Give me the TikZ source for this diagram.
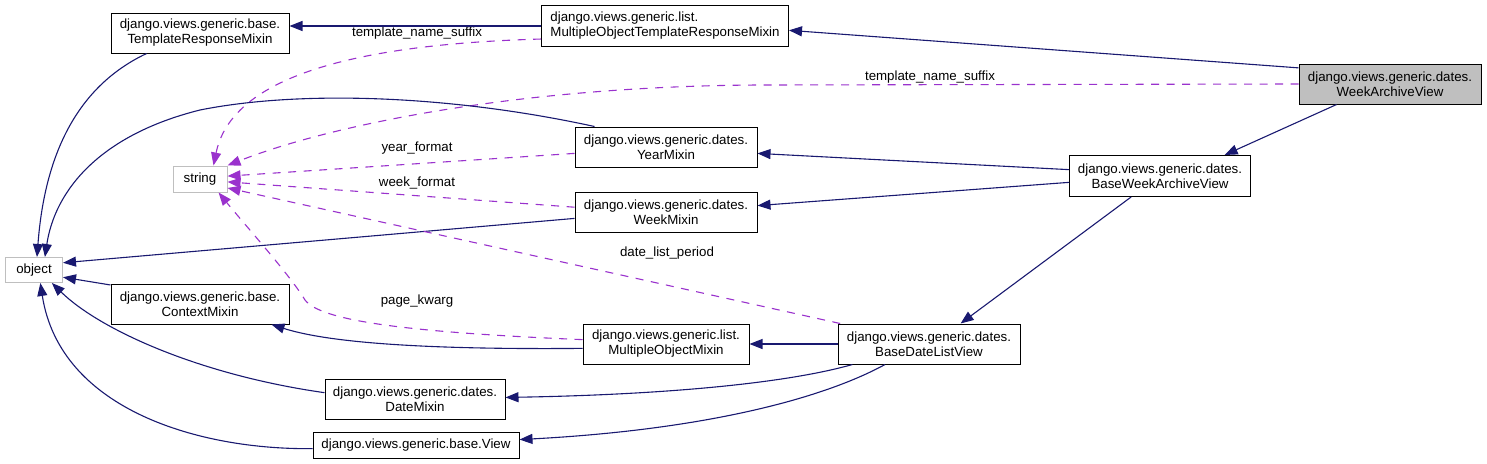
\documentclass[tikz,border=0pt]{standalone}
\usepackage{fontspec}
\setmainfont{Liberation Sans}
\usepackage{tikz}
\usetikzlibrary{arrows.meta}
\definecolor{inhblue}{HTML}{191970}
\definecolor{usepurple}{HTML}{9A32CD}
\definecolor{boxgray}{HTML}{BFBFBF}

\begin{document}
\begin{tikzpicture}[
  x=1pt, y=-1pt,
  cls/.style={draw, line width=1pt, fill=white, align=center, inner sep=0pt, minimum height=40pt, font=\fontsize{13.3}{15}\selectfont},
  ext/.style={draw=boxgray, line width=1pt, fill=white, inner sep=0pt, minimum height=26pt, font=\fontsize{13.3}{15}\selectfont},
  lbl/.style={inner sep=0pt, font=\fontsize{13.3}{15}\selectfont},
  inh/.style={draw=inhblue, line width=1.1pt, -{Triangle[length=13pt,width=10pt]}},
  use/.style={draw=usepurple, line width=1.1pt, dash pattern=on 8pt off 7.5pt, -{Triangle[length=13pt,width=10pt]}}
]
\useasboundingbox (0,0) rectangle (1487,463);
\node[cls, minimum width=178pt] (trm) at (200,33) {django.views.generic.base.\\TemplateResponseMixin};
\node[cls, minimum width=247pt, minimum height=41pt, align=left] (motrm) at (665,26) {django.views.generic.list.\\MultipleObjectTemplateResponseMixin};
\node[cls, fill=boxgray, minimum width=182pt] (wav) at (1390,84) {django.views.generic.dates.\\WeekArchiveView};
\node[ext, minimum width=54pt] (str) at (200,179) {string};
\node[cls, minimum width=182pt] (year) at (666,147) {django.views.generic.dates.\\YearMixin};
\node[cls, minimum width=182pt] (week) at (666,212) {django.views.generic.dates.\\WeekMixin};
\node[cls, minimum width=181pt, minimum height=41pt] (bwav) at (1160,176) {django.views.generic.dates.\\BaseWeekArchiveView};
\node[ext, minimum width=57pt, minimum height=25pt] (obj) at (34,270) {object};
\node[cls, minimum width=178pt] (ctx) at (200,304) {django.views.generic.base.\\ContextMixin};
\node[cls, minimum width=166pt] (mom) at (666,344) {django.views.generic.list.\\MultipleObjectMixin};
\node[cls, minimum width=182pt] (bdlv) at (929,344) {django.views.generic.dates.\\BaseDateListView};
\node[cls, minimum width=180pt] (date) at (415,399) {django.views.generic.dates.\\DateMixin};
\node[cls, minimum width=206pt, minimum height=26pt] (view) at (416,445) {django.views.generic.base.View};
\node[lbl] (sfx1) at (417,33) {template\_name\_suffix};
\node[lbl] (sfx2) at (930,77) {template\_name\_suffix};
\node[lbl] (yfmt) at (417,148) {year\_format};
\node[lbl] (wfmt) at (417,183) {week\_format};
\node[lbl] (dlp) at (667,253) {date\_list\_period};
\node[lbl] (pkw) at (417,301) {page\_kwarg};
\draw[inh] (motrm.west) -- (trm.east |- motrm.west);
\draw[inh] (wav.170) -- (motrm.-2);
\draw[inh] (wav.-159) -- (bwav.18);
\draw[use] (wav.west) -- (760,85) .. controls (520,86) and (330,125) .. (str.north east);
\draw[use] (motrm.-174) .. controls (330,45) and (230,85) .. (str.45);
\draw[inh] (trm.-159) .. controls (80,85) and (45,150) .. (obj.77);
\draw[inh] (year.164) .. controls (450,95) and (300,90) .. (200,110) .. controls (100,135) and (55,190) .. (obj.50);
\draw[use] (year.-176) -- (str.6);
\draw[inh] (bwav.176) -- (year.-4);
\draw[inh] (bwav.-176) -- (week.4);
\draw[use] (week.177) -- (str.-6);
\draw[inh] (week.-176) -- (obj.14);
\draw[inh] (bwav.-144) -- (bdlv.33);
\draw[use] (bdlv.167) -- (str.-18);
\draw[use] (mom.177) .. controls (400,332) and (320,320) .. (305,300) .. controls (290,275) and (245,225) .. (str.-36);
\draw[inh] (mom.-177) .. controls (400,350) and (320,340) .. (ctx.-16);
\draw[inh] (bdlv.west) -- (mom.east);
\draw[inh] (bdlv.-165) .. controls (780,385) and (650,395) .. (date.1);
\draw[inh] (bdlv.-155) .. controls (820,400) and (700,430) .. (view.3);
\draw[inh] (ctx.168) -- (obj.-14);
\draw[inh] (date.176) .. controls (200,375) and (100,330) .. (obj.-36);
\draw[inh] (view.-178) .. controls (200,450) and (60,410) .. (obj.-64);
\end{tikzpicture}
\end{document}
